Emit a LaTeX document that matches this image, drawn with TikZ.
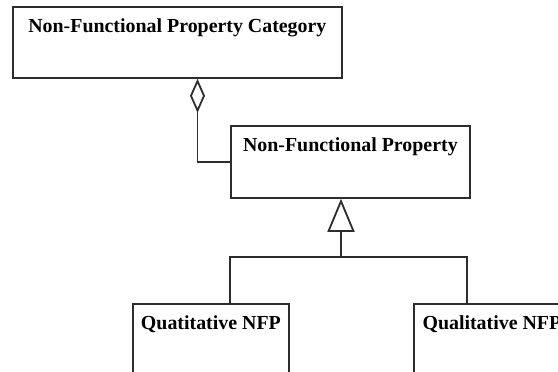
\documentclass[tikz,border=0pt]{standalone}
\usepackage{fontspec}
\setmainfont{Liberation Serif}
\usetikzlibrary{arrows.meta}
\definecolor{ink}{RGB}{45,45,45}
\tikzset{
  classbox/.style={draw=ink, line width=1.8pt, rectangle, anchor=north west,
    inner xsep=0pt, inner ysep=0pt, text height=26pt,
    font=\fontsize{19.9}{24}\selectfont\bfseries, text=black},
  link/.style={draw=ink, line width=1.8pt},
  aggr/.style={link, -{Diamond[fill=white, length=34pt, width=15pt]}},
  gen/.style={link, -{Triangle[fill=white, length=33pt, width=27pt]}}
}
\begin{document}
\begin{tikzpicture}[x=1pt, y=-1pt]
  \useasboundingbox (0,0) rectangle (558,372);
  \fill[white] (0,0) rectangle (558,372);
  \clip (0,0) rectangle (558,372);

  % classes
  \node[classbox, minimum width=329pt, text depth=45pt] (cat) at (12,6) {Non-Functional Property Category};
  \node[classbox, minimum width=239pt, text depth=46pt] (nfp) at (230,125) {Non-Functional Property};
  \node[classbox, minimum width=156pt, text depth=90pt] (quan) at (132,303) {Quatitative NFP};
  \node[classbox, minimum width=156pt, text depth=90pt] (qual) at (413,303) {Qualitative NFP};

  % helper coordinates for the connector routes
  \coordinate (ax) at (197.5,0);
  \coordinate (j) at (341,257);
  \coordinate (lx) at (230,0);
  \coordinate (rx) at (467,0);

  % aggregation: category contains properties
  \draw[aggr] (nfp.west) -| (cat.south -| ax);

  % generalisation: two kinds of property
  \draw[link] (quan.north -| lx) |- (j) -| (qual.north -| rx);
  \draw[gen] (j) -- (nfp.south -| j);
\end{tikzpicture}
\end{document}
